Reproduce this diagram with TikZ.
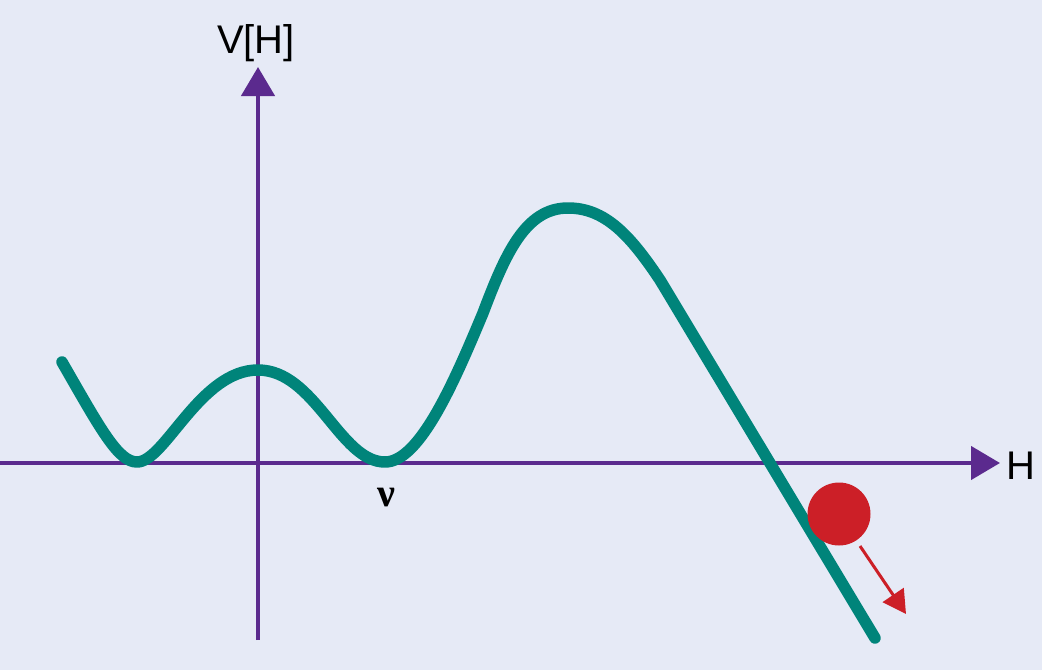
\documentclass[tikz,border=0pt]{standalone}
\usepackage{fontspec}
\setsansfont{Liberation Sans}
\newfontfamily\nufont{Liberation Serif}
\usetikzlibrary{arrows.meta}
\definecolor{bgc}{HTML}{E6EAF6}
\definecolor{axc}{HTML}{5B2A8E}
\definecolor{tealc}{HTML}{00847A}
\definecolor{ballc}{HTML}{CC1F27}
\begin{document}
\begin{tikzpicture}[x=1pt,y=-1pt,
  axis/.style={draw=axc,line width=4.5pt,-{Triangle[length=29pt,width=33pt]}},
  potential/.style={draw=tealc,line width=11.5pt,line cap=round,line join=round},
  lbl/.style={font=\sffamily\fontsize{40}{40}\selectfont,text=black,inner sep=0pt}]
\fill[bgc] (0,0) rectangle (1042,670);
\useasboundingbox (0,0) rectangle (1042,670);
% axes
\coordinate (xs) at (0,463);
\coordinate (xe) at (1000,463);
\coordinate (ys) at (258,640);
\coordinate (ye) at (258,67);
\draw[axis] (xs) -- (xe);
\draw[axis] (ys) -- (ye);
\node[lbl,anchor=west] (hl) at (1006,466) {H};
\node[lbl] (vl) at (256,43) {V[H]};
\node[inner sep=0pt,font=\nufont\bfseries\fontsize{40}{40}\selectfont] (nu) at (386,498) {ν};
% potential
\draw[potential] (62,362) .. controls (100,428) and (118,462) .. (137,462)
  .. controls (165,462) and (200,370) .. (258,370)
  .. controls (315,370) and (340,462) .. (385,462)
  .. controls (420,462) and (455,380) .. (483,313)
  .. controls (505,255) and (525,208) .. (568,208)
  .. controls (605,208) and (630,235) .. (660,280)
  -- (875,638);
% ball
\node[circle,fill=ballc,minimum size=63pt,inner sep=0pt] (ball) at (839,514) {};
\coordinate (as) at (860,546);
\coordinate (ae) at (906,614);
\draw[draw=ballc,line width=3pt,-{Triangle[length=23pt,width=25pt]}] (as) -- (ae);
\end{tikzpicture}
\end{document}
